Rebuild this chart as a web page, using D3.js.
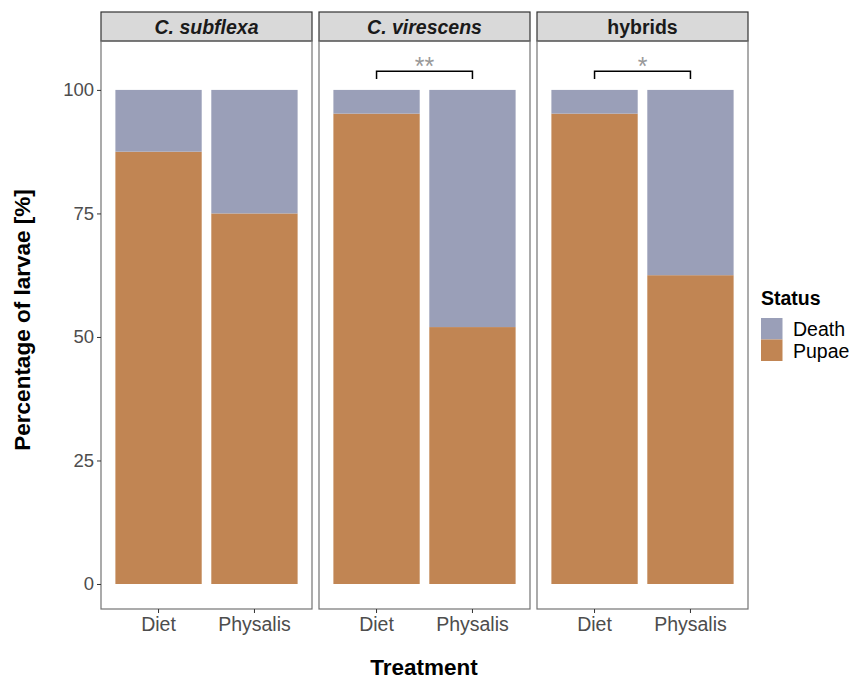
<!DOCTYPE html>
<html>
<head>
<meta charset="utf-8">
<script src="https://cdn.jsdelivr.net/npm/d3@7"></script>
<style>
body { margin:0; background:#fff; overflow:hidden; }
text { font-family: Arial, "Liberation Sans", sans-serif; }
</style>
</head>
<body>
<svg id="chart"></svg>
<script>
// facets, treatments and stacked values (percent of larvae)
var species = ["C. subflexa", "C. virescens", "hybrids"];
var treatments = ["Diet", "Physalis"];
var pupae = [[87.5, 75], [95.2, 52], [95.2, 62.5]];
var death = [[12.5, 25], [4.8, 48], [4.8, 37.5]];
var statusLevels = ["Death", "Pupae"];
var yTicks = [0, 25, 50, 75, 100];
// significance: [facet index, label]
var signif = [[1, "**"], [2, "*"]];

var screen = {width:851, height:679};
var colors = {Death:"#9a9fb8", Pupae:"#c18553"};

var svg = d3.select("#chart")
    .attr("width", screen.width)
    .attr("height", screen.height)
    .style("display", "block");

// panel layout
var panelLeft = [101, 319, 537];
var panelW = 211;
var stripTop = 12, stripH = 29;
var panelTop = stripTop + stripH, panelBottom = 609;

var yScale = d3.scaleLinear()
    .domain([-5.06, 109.9])
    .range([panelBottom, panelTop]);

// ggplot discrete axis: centers at 0.6 and 1.6 of 2.2 units, bar width 0.9
var xScale = d3.scaleLinear()
    .domain([0.4, 2.6])
    .range([0, panelW]);
var center = function(t){ return xScale(treatments.indexOf(t) + 1); };
var barW = xScale(1.9) - xScale(1);

species.forEach(function(sp, i)
{
    var g = svg.append("g")
        .attr("transform", "translate(" + panelLeft[i] + ",0)");

    // strip
    g.append("rect")
        .attr("x", 0).attr("y", stripTop)
        .attr("width", panelW).attr("height", stripH)
        .attr("fill", "#d9d9d9")
        .attr("stroke", "#333").attr("stroke-width", 1.2);
    g.append("text")
        .text(sp)
        .attr("x", panelW/2).attr("y", stripTop + stripH/2 + 7)
        .attr("text-anchor", "middle")
        .attr("font-size", 19.5)
        .attr("font-weight", "bold")
        .attr("font-style", i < 2 ? "italic" : "normal")
        .attr("fill", "#1a1a1a");

    // stacked bars
    var rows = treatments.map(function(t, j){
        return {t:t, pupae:pupae[i][j], death:death[i][j]};
    });
    g.selectAll("rect.pupae")
        .data(rows).enter().append("rect")
        .attr("class", "pupae")
        .attr("x", function(d){ return center(d.t) - barW/2; })
        .attr("width", barW)
        .attr("y", function(d){ return yScale(d.pupae); })
        .attr("height", function(d){ return yScale(0) - yScale(d.pupae); })
        .attr("fill", colors.Pupae);
    g.selectAll("rect.death")
        .data(rows).enter().append("rect")
        .attr("class", "death")
        .attr("x", function(d){ return center(d.t) - barW/2; })
        .attr("width", barW)
        .attr("y", function(d){ return yScale(d.pupae + d.death); })
        .attr("height", function(d){ return yScale(d.pupae) - yScale(d.pupae + d.death); })
        .attr("fill", colors.Death);

    // panel border
    g.append("rect")
        .attr("x", 0).attr("y", panelTop)
        .attr("width", panelW).attr("height", panelBottom - panelTop)
        .attr("fill", "none")
        .attr("stroke", "#737373").attr("stroke-width", 1.2);

    // x ticks and labels
    treatments.forEach(function(t){
        g.append("line")
            .attr("x1", center(t)).attr("x2", center(t))
            .attr("y1", panelBottom).attr("y2", panelBottom + 4)
            .attr("stroke", "#333");
        g.append("text")
            .text(t)
            .attr("x", center(t)).attr("y", panelBottom + 22)
            .attr("text-anchor", "middle")
            .attr("font-size", 19.5)
            .attr("fill", "#4d4d4d");
    });
});

// significance brackets
signif.forEach(function(s)
{
    var g = svg.append("g")
        .attr("transform", "translate(" + panelLeft[s[0]] + ",0)");
    var x1 = center(treatments[0]), x2 = center(treatments[1]);
    var yb = yScale(103.8), yt = yScale(102.2);
    g.append("path")
        .attr("d", "M" + x1 + "," + yt + "V" + yb + "H" + x2 + "V" + yt)
        .attr("fill", "none").attr("stroke", "#000").attr("stroke-width", 1.5);
    g.append("text")
        .text(s[1])
        .attr("x", (x1 + x2)/2).attr("y", yb + 4)
        .attr("text-anchor", "middle")
        .attr("font-size", 25)
        .attr("fill", "#999");
});

// y axis on first panel
var yAxis = d3.axisLeft(yScale).tickValues(yTicks).tickSize(4).tickPadding(3);
var ya = svg.append("g")
    .attr("transform", "translate(" + panelLeft[0] + ",0)")
    .call(yAxis);
ya.select(".domain").remove();
ya.selectAll("line").attr("stroke", "#333");
ya.selectAll("text").attr("font-size", 18.5).attr("fill", "#4d4d4d")
    .attr("font-family", "Arial, 'Liberation Sans', sans-serif");

// axis titles
svg.append("text")
    .text("Treatment")
    .attr("x", 424)
    .attr("y", 675)
    .attr("text-anchor", "middle")
    .attr("font-size", 22.5).attr("font-weight", "bold");
svg.append("g")
    .attr("transform", "translate(30,320)")
    .append("text")
    .text("Percentage of larvae [%]")
    .attr("transform", "rotate(270)")
    .attr("text-anchor", "middle")
    .attr("font-size", 22.5).attr("font-weight", "bold");

// legend
var legend = svg.append("g")
    .attr("transform", "translate(761,0)");
legend.append("text")
    .text("Status")
    .attr("x", 0).attr("y", 305)
    .attr("font-size", 19.5).attr("font-weight", "bold");
var entries = legend.selectAll("g.entry")
    .data(statusLevels).enter().append("g")
    .attr("class", "entry")
    .attr("transform", function(d, i){ return "translate(0," + (318 + i*21.5) + ")"; });
entries.append("rect")
    .attr("width", 21.5).attr("height", 21.5)
    .attr("fill", function(d){ return colors[d]; });
entries.append("text")
    .text(function(d){ return d; })
    .attr("x", 32).attr("y", 18)
    .attr("font-size", 19.5).attr("fill", "#000");
</script>
</body>
</html>
